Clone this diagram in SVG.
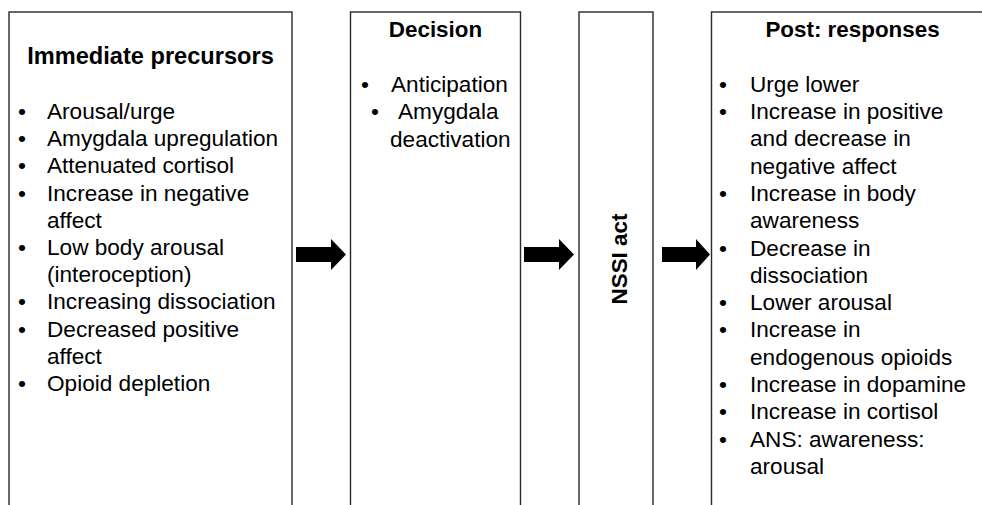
<svg xmlns="http://www.w3.org/2000/svg" width="982" height="505" viewBox="0 0 982 505">
<style>
.box{fill:#fff;stroke:#2a2a2a;stroke-width:1.4}
text{font-family:"Liberation Sans",Arial,sans-serif;fill:#000}
.t{font-weight:bold;font-size:22.4px}
.b{font-size:22.6px}
.arr{fill:#000}
</style>
<rect width="982" height="505" fill="#fff"/>
<g id="node-precursors">
<rect class="box" x="9" y="12" width="283" height="510"/>
<text class="t" x="150.5" y="64" text-anchor="middle" style="font-size:23.6px">Immediate precursors</text>
<g class="b">
<text x="18" y="119">•</text><text x="47" y="119">Arousal/urge</text>
<text x="18" y="146.2">•</text><text x="47" y="146.2">Amygdala upregulation</text>
<text x="18" y="173.4">•</text><text x="47" y="173.4">Attenuated cortisol</text>
<text x="18" y="200.6">•</text><text x="47" y="200.6">Increase in negative</text>
<text x="47" y="227.8">affect</text>
<text x="18" y="255">•</text><text x="47" y="255">Low body arousal</text>
<text x="47" y="282.2">(interoception)</text>
<text x="18" y="309.4">•</text><text x="47" y="309.4">Increasing dissociation</text>
<text x="18" y="336.6">•</text><text x="47" y="336.6">Decreased positive</text>
<text x="47" y="363.8">affect</text>
<text x="18" y="391">•</text><text x="47" y="391">Opioid depletion</text>
</g>
</g>
<g id="node-decision">
<rect class="box" x="350.5" y="12" width="170" height="510"/>
<text class="t" x="435.5" y="37" text-anchor="middle">Decision</text>
<g class="b">
<text x="361" y="92">•</text><text x="391" y="92">Anticipation</text>
<text x="371" y="119">•</text><text x="398" y="119">Amygdala</text>
<text x="390" y="146.5">deactivation</text>
</g>
</g>
<g id="node-nssi">
<rect class="box" x="579" y="12" width="74" height="510"/>
<text class="t" x="0" y="0" text-anchor="middle" transform="translate(627,259) rotate(-90)">NSSI act</text>
</g>
<g id="node-post">
<rect class="box" x="711.5" y="12" width="290" height="510"/>
<text class="t" x="852.5" y="36.5" text-anchor="middle">Post: responses</text>
<g class="b">
<text x="719" y="91.7">•</text><text x="750" y="91.7">Urge lower</text>
<text x="719" y="119">•</text><text x="750" y="119">Increase in positive</text>
<text x="750" y="146.3">and decrease in</text>
<text x="750" y="173.6">negative affect</text>
<text x="719" y="200.9">•</text><text x="750" y="200.9">Increase in body</text>
<text x="750" y="228.2">awareness</text>
<text x="719" y="255.5">•</text><text x="750" y="255.5">Decrease in</text>
<text x="750" y="282.8">dissociation</text>
<text x="719" y="310.1">•</text><text x="750" y="310.1">Lower arousal</text>
<text x="719" y="337.4">•</text><text x="750" y="337.4">Increase in</text>
<text x="750" y="364.7">endogenous opioids</text>
<text x="719" y="392">•</text><text x="750" y="392">Increase in dopamine</text>
<text x="719" y="419.3">•</text><text x="750" y="419.3">Increase in cortisol</text>
<text x="719" y="446.6">•</text><text x="750" y="446.6">ANS: awareness:</text>
<text x="750" y="473.9">arousal</text>
</g>
</g>
<g id="connectors">
<polygon class="arr" points="296,247 331,247 331,239 346,254.5 331,270 331,262 296,262"/>
<polygon class="arr" points="524,247 559,247 559,239 574,254.5 559,270 559,262 524,262"/>
<polygon class="arr" points="662,247 696,247 696,239 710,254.5 696,270 696,262 662,262"/>
</g>
</svg>
